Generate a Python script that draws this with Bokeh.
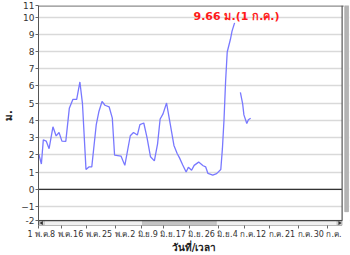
from bokeh.plotting import figure
from bokeh.models import Range1d, FixedTicker, Label
from bokeh.embed import file_html
from bokeh.resources import INLINE

# ---- data (day offset from 1 May, water level in metres) ----
seg1_day = [0, 0.8, 1.4, 2.3, 3.2, 4.4, 5.4, 6.3, 7.2, 8.4, 9.5, 10.6, 11.8, 12.8, 13.6,
            14.7, 15.6, 16.5, 17.9, 18.7, 19.7, 20.6, 21.9, 22.9, 23.6, 25.6, 26.8, 28.5,
            29.5, 30.7, 31.5, 32.7, 33.7, 34.8, 36.0, 37.0, 37.8, 38.7, 39.8, 40.8, 42.1,
            43.1, 43.8, 44.8, 45.9, 46.6, 47.6, 48.4, 49.8, 51.2, 52.0, 52.7, 54.2, 55.4,
            56.7, 57.2, 57.7, 58.2, 58.7, 59.7, 60.2, 61.0]
seg1_level = [2.04, 1.47, 2.87, 2.8, 2.36, 3.63, 3.1, 3.3, 2.8, 2.78, 4.7, 5.22, 5.22, 6.23, 4.97,
              1.15, 1.3, 1.3, 3.76, 4.5, 5.1, 4.88, 4.79, 4.13, 1.99, 1.93, 1.39, 3.11,
              3.3, 3.15, 3.76, 3.85, 3.01, 1.89, 1.65, 2.64, 4.08, 4.38, 5.01, 3.95, 2.55,
              2.08, 1.84, 1.43, 1.0, 1.28, 1.11, 1.39, 1.58, 1.37, 1.3, 0.92, 0.83, 0.91,
              1.15, 2.36, 4.04, 6.29, 7.97, 8.71, 9.18, 9.66]
seg2_day = [62.8, 63.5, 63.9, 64.8, 65.3, 66.0]
seg2_level = [5.63, 4.97, 4.32, 3.82, 4.04, 4.13]

x_tick_days = [0, 7, 15, 24, 32, 39, 47, 56, 64, 72, 81, 90]
x_tick_labels = ["1 พ.ค.", "8 พ.ค.", "16 พ.ค.", "25 พ.ค.", "2 มิ.ย.", "9 มิ.ย.", "17 มิ.ย.",
                 "26 มิ.ย.", "4 ก.ค.", "12 ก.ค.", "21 ก.ค.", "30 ก.ค."]
y_ticks = [-1.82, -1, 0, 1, 2, 3, 4, 5, 6, 7, 8, 9, 10, 10.67]
y_tick_labels = {-1.82: "-2", 10.67: "11"}

peak_text = "9.66 ม.(1 ก.ค.)"
x_title = "วันที่/เวลา"
y_title = "ม."

# view / decoration positions
X0, X_PLOT_END, X_END = -0.1, 94.5, 96.8
Y_BOTTOM, Y_PLOT_BOTTOM, Y_TOP = -2.10, -1.82, 10.67
THUMB = (32.3, 55.3)

FONT = "DejaVu Sans"

p = figure(width=350, height=255, output_backend="svg", toolbar_location=None,
           x_range=Range1d(X0, X_END), y_range=Range1d(Y_BOTTOM, Y_TOP),
           min_border_left=29, min_border_right=1, min_border_top=5, min_border_bottom=22)
p.outline_line_color = None
p.background_fill_color = "white"
p.border_fill_color = "white"

# grid
p.xgrid.grid_line_color = None
p.ygrid.grid_line_color = "#d9d9d9"
p.ygrid.grid_line_width = 1.5

# axes
p.yaxis.ticker = FixedTicker(ticks=y_ticks)
p.yaxis.major_label_overrides = y_tick_labels
p.xaxis.ticker = FixedTicker(ticks=x_tick_days)
p.xaxis.major_label_overrides = dict(zip(x_tick_days, x_tick_labels))
for ax in (p.xaxis[0], p.yaxis[0]):
    ax.major_label_text_font = FONT
    ax.major_label_text_font_size = "9px"
    ax.major_label_text_color = "#333333"
    ax.minor_tick_line_color = None
    ax.major_tick_in = 0
    ax.major_tick_out = 3
    ax.major_tick_line_color = "#666666"
    ax.axis_line_color = "#555555"
    ax.major_label_standoff = 1
    ax.axis_label_text_font = FONT
    ax.axis_label_text_font_size = "10px"
    ax.axis_label_text_font_style = "bold"
    ax.axis_label_text_color = "#222222"
    ax.axis_label_standoff = 0
p.xaxis.major_label_text_font_size = "8px"
p.xaxis.axis_label = x_title
p.yaxis.axis_label = y_title
p.xaxis.axis_line_color = None
p.yaxis.axis_label_standoff = 4

# zero line
p.segment(x0=[X0], y0=[0], x1=[X_PLOT_END], y1=[0], line_color="#333333", line_width=1.2)

# data lines
p.line(seg1_day, seg1_level, line_color="#7878ff", line_width=1.3)
p.line(seg2_day, seg2_level, line_color="#7878ff", line_width=1.3)

# right strip (vertical scrollbar)
p.quad(left=[X_PLOT_END], right=[X_END], bottom=[Y_BOTTOM], top=[Y_TOP + 1],
       fill_color="white", line_color=None)
p.quad(left=[X_PLOT_END + 0.8], right=[X_PLOT_END + 2.0], bottom=[-1.3], top=[Y_TOP],
       fill_color="#b4b4b4", line_color="#9a9a9a", line_width=0.5)

# bottom horizontal scrollbar
p.quad(left=[X0], right=[X_PLOT_END], bottom=[Y_BOTTOM], top=[Y_PLOT_BOTTOM],
       fill_color="#f0f0f0", line_color=None)
p.quad(left=[THUMB[0]], right=[THUMB[1]], bottom=[Y_BOTTOM], top=[Y_PLOT_BOTTOM],
       fill_color="#c4c4c4", line_color="#a8a8a8", line_width=0.5)
p.quad(left=[X0 + 0.2, X_PLOT_END - 1.6], right=[X0 + 1.8, X_PLOT_END],
       bottom=[Y_BOTTOM + 0.03] * 2, top=[Y_PLOT_BOTTOM] * 2,
       fill_color="#e0e0e0", line_color="#999999", line_width=0.5)
p.scatter(x=[X0 + 1.0], y=[(Y_BOTTOM + Y_PLOT_BOTTOM) / 2], marker="triangle", size=4,
          angle=1.5708, fill_color="#333333", line_color=None)
p.scatter(x=[X_PLOT_END - 0.8], y=[(Y_BOTTOM + Y_PLOT_BOTTOM) / 2], marker="triangle", size=4,
          angle=-1.5708, fill_color="#333333", line_color=None)

# frame borders
p.segment(x0=[X0, X0, X_PLOT_END], y0=[Y_PLOT_BOTTOM, Y_TOP, Y_PLOT_BOTTOM],
          x1=[X_PLOT_END, X_PLOT_END + 0.5, X_PLOT_END], y1=[Y_PLOT_BOTTOM, Y_TOP, Y_TOP],
          line_color=["#444444", "#8c8c8c", "#555555"], line_width=[1.2, 2.5, 1.2])
p.segment(x0=[X0], y0=[Y_BOTTOM], x1=[X_PLOT_END], y1=[Y_BOTTOM], line_color="#777777", line_width=1)

# peak annotation
p.add_layout(Label(x=48.2, y=10.06, text=peak_text, text_color="#ff1a1a", text_font=FONT,
                   text_font_size="11px", text_font_style="bold",
                   text_align="left", text_baseline="middle"))

open("out.html", "w").write(file_html(p, INLINE))
